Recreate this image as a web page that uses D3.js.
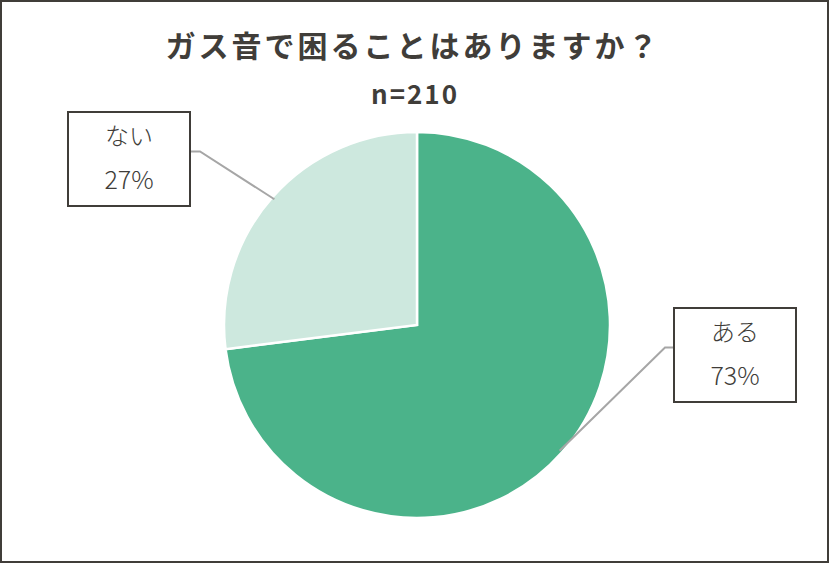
<!DOCTYPE html>
<html><head><meta charset="utf-8">
<script src="https://cdn.jsdelivr.net/npm/d3@7"></script>
<style>
html,body{margin:0;padding:0;background:#fff;}
svg{display:block;}
</style></head>
<body>
<svg id="chart" width="829" height="563"></svg>
<script>
const title = "ガス音で困ることはありますか？";
const subtitle = "n=210";
const categories = ["ある", "ない"];
const values = [73, 27];
const colors = ["#4BB38A", "#CDE8DE"];

const svg = d3.select("#chart");
const W = 829, H = 563;
const textColor = "#403D39";
const font = "'Noto Sans CJK JP','Noto Sans',sans-serif";

svg.append("rect").attr("x",1).attr("y",1).attr("width",W-2).attr("height",H-2)
  .attr("fill","#fff").attr("stroke",textColor).attr("stroke-width",2);

svg.append("text").attr("x",413).attr("y",57).attr("text-anchor","middle")
  .attr("font-family",font).attr("font-weight","bold").attr("font-size",30)
  .attr("letter-spacing","3px").attr("fill",textColor).text(title);
svg.append("text").attr("x",415).attr("y",104).attr("text-anchor","middle")
  .attr("font-family",font).attr("font-weight","bold").attr("font-size",26)
  .attr("letter-spacing","2px").attr("fill",textColor).text(subtitle);

const cx = 417, cy = 325, r = 193;
const data = categories.map((c,i)=>({cat:c, value:values[i], color:colors[i]}));
const pie = d3.pie().sort(null).value(d=>d.value);
const arcs = pie(data);
const arc = d3.arc().innerRadius(0).outerRadius(r);
const g = svg.append("g").attr("transform",`translate(${cx},${cy})`);
g.selectAll("path").data(arcs).join("path")
  .attr("d",arc).attr("fill",d=>d.data.color)
  .attr("stroke","#fff").attr("stroke-width",2.5).attr("stroke-linejoin","miter");

// label boxes (layout)
const boxes = [
  {x:674, y:308, w:122, h:94, side:"left", elbow:9},
  {x:68, y:112, w:122, h:94, side:"right", elbow:10}
];
const total = d3.sum(values);
arcs.forEach((a,i)=>{
  const b = boxes[i];
  const mid = (a.startAngle + a.endAngle)/2;
  const rr = r*0.985;
  const sx = cx + Math.sin(mid)*rr, sy = cy - Math.cos(mid)*rr;
  const ey = b.y + b.h*0.42;
  const ex = b.side==="left" ? b.x : b.x + b.w;
  const kx = b.side==="left" ? ex - b.elbow : ex + b.elbow;
  svg.append("polyline").attr("points",`${sx},${sy} ${kx},${ey} ${ex},${ey}`)
    .attr("fill","none").attr("stroke","#A6A6A6").attr("stroke-width",2);
  svg.append("rect").attr("x",b.x).attr("y",b.y).attr("width",b.w).attr("height",b.h)
    .attr("fill","#fff").attr("stroke",textColor).attr("stroke-width",2);
  const tx = b.x + b.w/2;
  svg.append("text").attr("x",tx).attr("y",b.y+33).attr("text-anchor","middle")
    .attr("font-family",font).attr("font-weight",300).attr("font-size",24)
    .attr("fill",textColor).text(a.data.cat);
  svg.append("text").attr("x",tx).attr("y",b.y+77).attr("text-anchor","middle")
    .attr("font-family",font).attr("font-weight",300).attr("font-size",25)
    .attr("fill",textColor).text(Math.round(a.data.value/total*100)+"%");
});
</script>
</body></html>
